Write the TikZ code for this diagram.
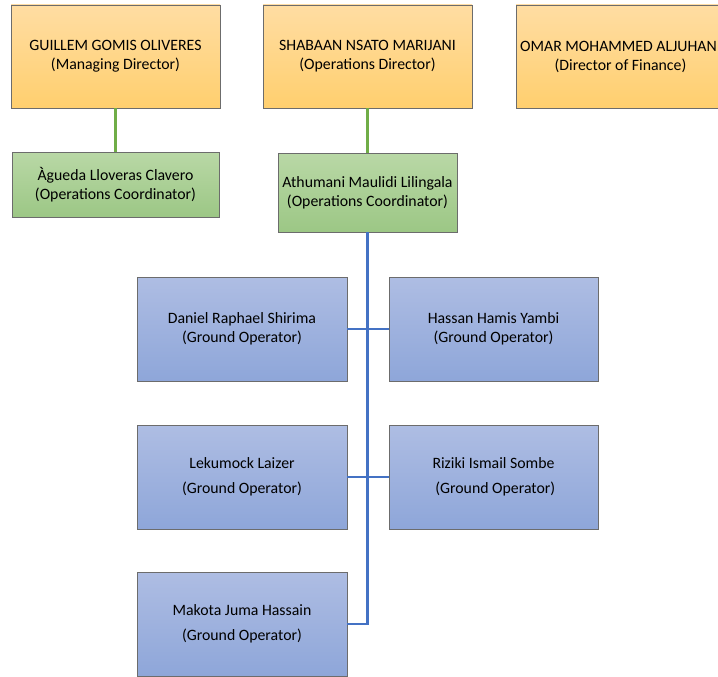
\documentclass[tikz,border=0pt]{standalone}
\usepackage{fontspec}
\setmainfont{Carlito}
\begin{document}
\begin{tikzpicture}[x=1pt,y=-1pt,
  box/.style={draw=gray!85!black, line width=0.9pt, rectangle, inner sep=0pt, align=center, font=\fontsize{15.8}{19}\selectfont},
  orangebox/.style={box, minimum width=209pt, minimum height=103pt, top color=orTop, bottom color=orBot},
  greenbox/.style={box, top color=grTop, bottom color=grBot},
  bluebox/.style={box, minimum width=210pt, minimum height=104pt, top color=blTop, bottom color=blBot},
  greenline/.style={draw=grLine, line width=2.4pt},
  blueline/.style={draw=blLine, line width=2.4pt},
  wide/.style={font=\fontsize{15.8}{25}\selectfont}]
\definecolor{orTop}{HTML}{FFDDA3}
\definecolor{orBot}{HTML}{FFCF6E}
\definecolor{grTop}{HTML}{B9D8A6}
\definecolor{grBot}{HTML}{9CC785}
\definecolor{blTop}{HTML}{AEBDE3}
\definecolor{blBot}{HTML}{8EA6D9}
\definecolor{grLine}{HTML}{70AD47}
\definecolor{blLine}{HTML}{4472C4}
\useasboundingbox (0,0) rectangle (718,677);
\clip (0,0) rectangle (718,677);

\node[orangebox] (gg) at (115.5,56.5) {GUILLEM GOMIS OLIVERES\\(Managing Director)};
\node[orangebox] (sn) at (367.5,56.5) {SHABAAN NSATO MARIJANI\\(Operations Director)};
\node[orangebox] (om) at (620.5,56.5) {OMAR MOHAMMED ALJUHANI\\(Director of Finance)};

\node[greenbox, minimum width=207pt, minimum height=65pt] (ag) at (115.5,184.5) {Àgueda Lloveras Clavero\\(Operations Coordinator)};
\node[greenbox, minimum width=179pt, minimum height=79pt] (am) at (367.5,192.5) {Athumani Maulidi Lilingala\\(Operations Coordinator)};

\node[bluebox] (dr) at (242,329) {Daniel Raphael Shirima\\(Ground Operator)};
\node[bluebox, minimum width=209pt] (hh) at (493.5,329) {Hassan Hamis Yambi\\(Ground Operator)};
\node[bluebox, wide] (lk) at (242,477) {Lekumock Laizer\\(Ground Operator)};
\node[bluebox, wide, minimum width=209pt] (rz) at (493.5,477) {Riziki Ismail Sombe\\\ (Ground Operator)};
\node[bluebox, wide] (mk) at (242,624) {Makota Juma Hassain\\(Ground Operator)};

\draw[greenline] (gg.south) -- (ag.north);
\draw[greenline] (sn.south) -- (am.north);
\draw[blueline] (am.south) |- (mk.east);
\draw[blueline] (dr.east) -- (hh.west);
\draw[blueline] (lk.east) -- (rz.west);
\end{tikzpicture}
\end{document}
